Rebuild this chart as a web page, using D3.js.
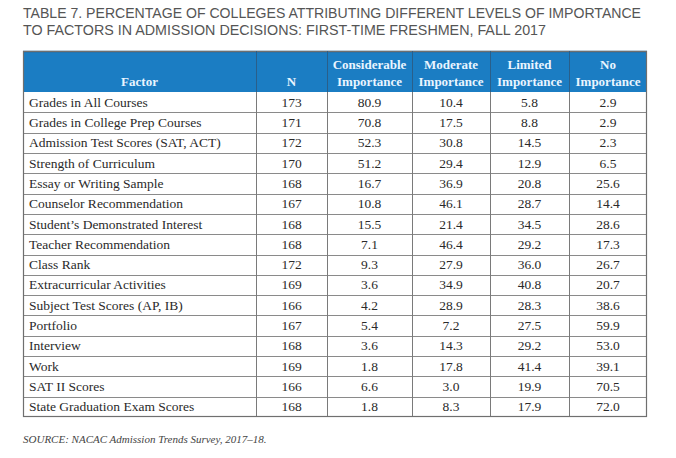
<!DOCTYPE html>
<html><head><meta charset="utf-8">
<script src="https://cdn.jsdelivr.net/npm/d3@7"></script>
<style>
html,body{margin:0;padding:0;background:#fff;}
svg{display:block;}
</style></head>
<body>
<svg id="chart" width="676" height="458"></svg>
<script>
const titleLines = [
  "TABLE 7. PERCENTAGE OF COLLEGES ATTRIBUTING DIFFERENT LEVELS OF IMPORTANCE",
  "TO FACTORS IN ADMISSION DECISIONS: FIRST-TIME FRESHMEN, FALL 2017"
];
const headers = [["Factor"], ["N"], ["Considerable","Importance"], ["Moderate","Importance"], ["Limited","Importance"], ["No","Importance"]];
const factors = ["Grades in All Courses","Grades in College Prep Courses","Admission Test Scores (SAT, ACT)","Strength of Curriculum","Essay or Writing Sample","Counselor Recommendation","Student\u2019s Demonstrated Interest","Teacher Recommendation","Class Rank","Extracurricular Activities","Subject Test Scores (AP, IB)","Portfolio","Interview","Work","SAT II Scores","State Graduation Exam Scores"];
const nValues = [173,171,172,170,168,167,168,168,172,169,166,167,168,169,166,168];
const considerable = [80.9,70.8,52.3,51.2,16.7,10.8,15.5,7.1,9.3,3.6,4.2,5.4,3.6,1.8,6.6,1.8];
const moderate = [10.4,17.5,30.8,29.4,36.9,46.1,21.4,46.4,27.9,34.9,28.9,7.2,14.3,17.8,3.0,8.3];
const limited = [5.8,8.8,14.5,12.9,20.8,28.7,34.5,29.2,36.0,40.8,28.3,27.5,29.2,41.4,19.9,17.9];
const noImp = [2.9,2.9,2.3,6.5,25.6,14.4,28.6,17.3,26.7,20.7,38.6,59.9,53.0,39.1,70.5,72.0];
const source = "SOURCE: NACAC Admission Trends Survey, 2017\u201318.";

const svg = d3.select("#chart");
const colEdges = [23, 256, 327, 412, 490, 569, 647];
const headTop = 51, headBottom = 92, tableBottom = 417;
const serif = "'Liberation Serif','DejaVu Serif',serif";

// Title
svg.selectAll("text.title").data(titleLines).join("text")
  .attr("class","title")
  .attr("x", 23).attr("y", (d,i)=> 18 + i*17)
  .attr("font-family","'Liberation Sans Narrow','Liberation Sans',Arial,sans-serif")
  .attr("font-size", 14.5)
  .attr("fill","#555")
  .attr("textLength",(d,i)=> i===0 ? 618 : 523)
  .attr("lengthAdjust","spacingAndGlyphs")
  .text(d=>d);

// Header
svg.append("rect").attr("x",colEdges[0]).attr("y",headTop)
  .attr("width",colEdges[6]-colEdges[0]).attr("height",headBottom-headTop)
  .attr("fill","#1b7dc3");
svg.append("line").attr("x1",colEdges[0]).attr("x2",colEdges[6]).attr("y1",headTop+0.5).attr("y2",headTop+0.5)
  .attr("stroke","#2a5f8a").attr("stroke-width",1.5);

const rows = d3.range(factors.length);
const y = d3.scaleBand().domain(rows).range([headBottom, tableBottom]);

const cols = headers.map((h,i)=>({h, x0: colEdges[i], x1: colEdges[i+1]}));
cols.forEach((c,i)=>{
  const g = svg.append("g");
  const n = c.h.length;
  c.h.forEach((t,j)=>{
    g.append("text")
      .attr("x",(c.x0+c.x1)/2)
      .attr("y", headBottom - 6 - (n-1-j)*17)
      .attr("text-anchor","middle")
      .attr("font-family",serif).attr("font-weight","bold")
      .attr("font-size",13).attr("fill","#eaf5ff")
      .text(t);
  });
});

// Body grid
const body = svg.append("g");
body.selectAll("line.row").data(rows.slice(1)).join("line")
  .attr("x1",colEdges[0]).attr("x2",colEdges[6])
  .attr("y1",d=>Math.round(y(d))+0.5).attr("y2",d=>Math.round(y(d))+0.5)
  .attr("stroke","#8a8a8a").attr("stroke-width",1);
body.selectAll("line.col").data(colEdges.slice(1,6)).join("line")
  .attr("x1",d=>d+0.5).attr("x2",d=>d+0.5)
  .attr("y1",headTop).attr("y2",tableBottom)
  .attr("stroke","#7a7a7a").attr("stroke-width",1);
svg.selectAll("line.hcol").data(colEdges.slice(1,6)).join("line")
  .attr("x1",d=>d+0.5).attr("x2",d=>d+0.5)
  .attr("y1",headTop).attr("y2",headBottom)
  .attr("stroke","#2a5f8a").attr("stroke-width",1);
body.append("rect").attr("x",colEdges[0]+0.5).attr("y",headTop+0.5)
  .attr("width",colEdges[6]-colEdges[0]-1).attr("height",tableBottom-headTop-1)
  .attr("fill","none").attr("stroke","#6f6f6f").attr("stroke-width",1.2);

// Body text
const fmt = d3.format(".1f");
const series = [nValues.map(String), considerable.map(fmt), moderate.map(fmt), limited.map(fmt), noImp.map(fmt)];
body.selectAll("text.factor").data(factors).join("text")
  .attr("x",colEdges[0]+6).attr("y",(d,i)=>y(i)+y.bandwidth()/2+4.5)
  .attr("font-family",serif).attr("font-size",13.5).attr("fill","#2a2a2a")
  .text(d=>d);
series.forEach((s,k)=>{
  const cx = (colEdges[k+1]+colEdges[k+2])/2;
  body.selectAll("text.v"+k).data(s).join("text")
    .attr("x",cx).attr("y",(d,i)=>y(i)+y.bandwidth()/2+4.5)
    .attr("text-anchor","middle")
    .attr("font-family",serif).attr("font-size",13.5).attr("fill","#2a2a2a")
    .text(d=>d);
});

// Source
svg.append("text").attr("x",23).attr("y",443)
  .attr("font-family",serif).attr("font-style","italic")
  .attr("font-size",11).attr("fill","#444")
  .text(source);
</script>
</body></html>
